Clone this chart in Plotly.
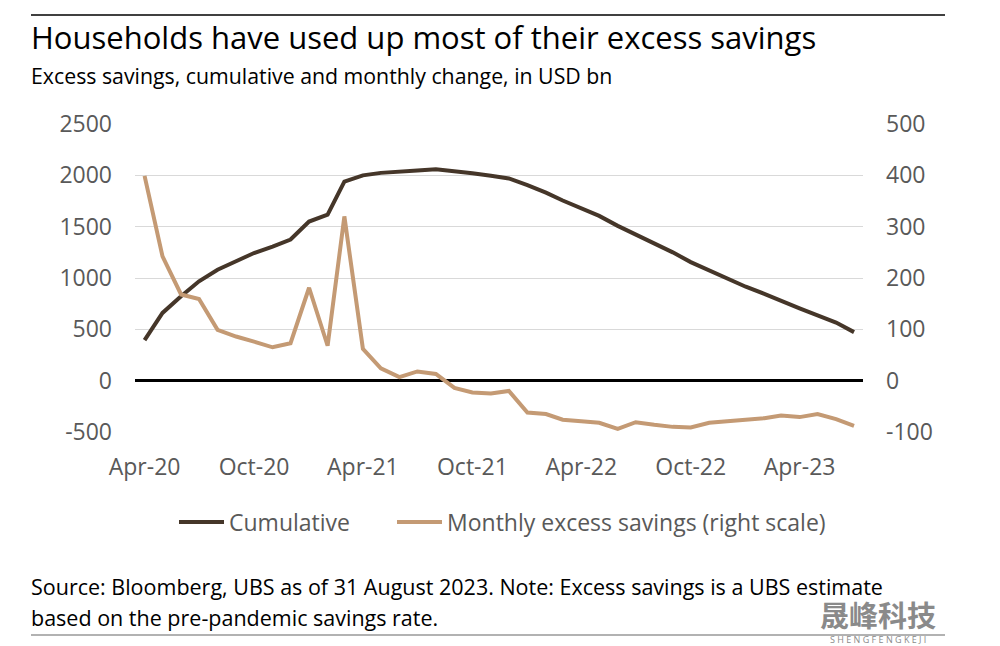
import plotly.graph_objects as go

months = ["2020-04", "2020-05", "2020-06", "2020-07", "2020-08", "2020-09", "2020-10", "2020-11",
          "2020-12", "2021-01", "2021-02", "2021-03", "2021-04", "2021-05", "2021-06", "2021-07",
          "2021-08", "2021-09", "2021-10", "2021-11", "2021-12", "2022-01", "2022-02", "2022-03",
          "2022-04", "2022-05", "2022-06", "2022-07", "2022-08", "2022-09", "2022-10", "2022-11",
          "2022-12", "2023-01", "2023-02", "2023-03", "2023-04", "2023-05", "2023-06", "2023-07"]
dates = [m + "-01" for m in months]

cumulative = [395, 660, 822, 968, 1080, 1162, 1243, 1306, 1375, 1550, 1618, 1938, 2000, 2024,
              2032, 2046, 2060, 2042, 2020, 1996, 1970, 1905, 1832, 1755, 1680, 1605, 1508, 1422,
              1342, 1250, 1155, 1073, 993, 915, 846, 775, 705, 637, 566, 473]
monthly = [399, 242, 168, 159, 99, 86, 76, 65, 73, 181, 68, 320, 62, 24, 7, 18, 13, -14, -23,
           -25, -20, -62, -65, -76, -79, -82, -94, -81, -86, -90, -91, -82, -79, -76, -73, -68,
           -71, -65, -75, -88]

left_ticks = [-500, 0, 500, 1000, 1500, 2000, 2500]
left_labels = ["-500", "0", "500", "1000", "1500", "2000", "2500"]
right_ticks = [-100, 0, 100, 200, 300, 400, 500]
right_labels = ["-100", "0", "100", "200", "300", "400", "500"]

title = "Households have used up most of their excess savings"
subtitle = "Excess savings, cumulative and monthly change, in USD bn"
source1 = "Source: Bloomberg, UBS as of 31 August 2023. Note: Excess savings is a UBS estimate"
source2 = "based on the pre-pandemic savings rate."

FONT = "Open Sans"
DARK = "#453629"
TAN = "#c49a74"
TICK = "#595959"

fig = go.Figure()
fig.add_trace(go.Scatter(x=dates, y=cumulative, name="Cumulative", mode="lines",
                         line=dict(color=DARK, width=4), yaxis="y", legend="legend"))
fig.add_trace(go.Scatter(x=dates, y=monthly, name="Monthly excess savings (right scale)",
                         mode="lines", line=dict(color=TAN, width=4), yaxis="y2",
                         legend="legend2"))

def px_x(p):
    return (p - 135) / 728.0

def px_y(p):
    return (432 - p) / 308.0

legend_style = dict(orientation="h", xanchor="left", y=px_y(522), yanchor="middle",
                    font=dict(size=23, color=TICK, family=FONT), itemwidth=45,
                    bgcolor="rgba(0,0,0,0)")

fig.update_layout(
    width=1000, height=646,
    margin=dict(l=135, r=137, t=124, b=214),
    paper_bgcolor="white", plot_bgcolor="white",
    font=dict(family=FONT, color=TICK),
    showlegend=True,
    legend=dict(x=px_x(174), **legend_style),
    legend2=dict(x=px_x(392), **legend_style),
    xaxis=dict(type="date", range=["2020-03-16", "2023-07-16"],
               tick0="2020-04-01", dtick="M6", tickformat="%b-%y",
               showgrid=False, zeroline=False, showline=False, ticks="",
               tickfont=dict(size=23, color=TICK, family=FONT), ticklabelstandoff=19),
    yaxis=dict(range=[-500, 2500], tickvals=left_ticks, ticktext=left_labels, showgrid=True,
               gridcolor="#d9d9d9", gridwidth=1, zeroline=True, zerolinecolor="black",
               zerolinewidth=3, showline=False, ticks="",
               tickfont=dict(size=23, color=TICK, family=FONT), ticklabelstandoff=22),
    yaxis2=dict(range=[-100, 500], tickvals=right_ticks, ticktext=right_labels,
                overlaying="y", side="right",
                showgrid=False, zeroline=False, showline=False, ticks="",
                tickfont=dict(size=23, color=TICK, family=FONT), ticklabelstandoff=22),
)

fig.add_shape(type="line", xref="paper", yref="paper", x0=px_x(31), x1=px_x(945),
              y0=px_y(15), y1=px_y(15), line=dict(color="black", width=1.5))
fig.add_shape(type="line", xref="paper", yref="paper", x0=px_x(31), x1=px_x(945),
              y0=px_y(635), y1=px_y(635), line=dict(color="#999999", width=1.5))

fig.add_annotation(text=title, xref="paper", yref="paper", x=px_x(29), y=px_y(37),
                   xanchor="left", yanchor="middle", showarrow=False,
                   font=dict(size=31, color="black", family=FONT))
fig.add_annotation(text=subtitle, xref="paper", yref="paper", x=px_x(29), y=px_y(76),
                   xanchor="left", yanchor="middle", showarrow=False,
                   font=dict(size=21.3, color="black", family=FONT))
fig.add_annotation(text=source1, xref="paper", yref="paper", x=px_x(29), y=px_y(586),
                   xanchor="left", yanchor="middle", showarrow=False,
                   font=dict(size=21.5, color="black", family=FONT))
fig.add_annotation(text=source2, xref="paper", yref="paper", x=px_x(29), y=px_y(617),
                   xanchor="left", yanchor="middle", showarrow=False,
                   font=dict(size=21.5, color="black", family=FONT))
fig.add_annotation(text="<b>晟峰科技</b>", xref="paper", yref="paper", x=px_x(878), y=px_y(614),
                   xanchor="center", yanchor="middle", showarrow=False,
                   font=dict(size=29, color="#8a8a8a", family="Noto Sans CJK SC"))
fig.add_annotation(text="S H E N G F E N G K E J I", xref="paper", yref="paper",
                   x=px_x(878), y=px_y(639), xanchor="center", yanchor="middle",
                   showarrow=False, font=dict(size=9, color="#8a8a8a", family=FONT))

fig.write_html("out.html", config={"displayModeBar": False},
               post_script="document.body.style.margin='0';document.body.style.padding='0';")
